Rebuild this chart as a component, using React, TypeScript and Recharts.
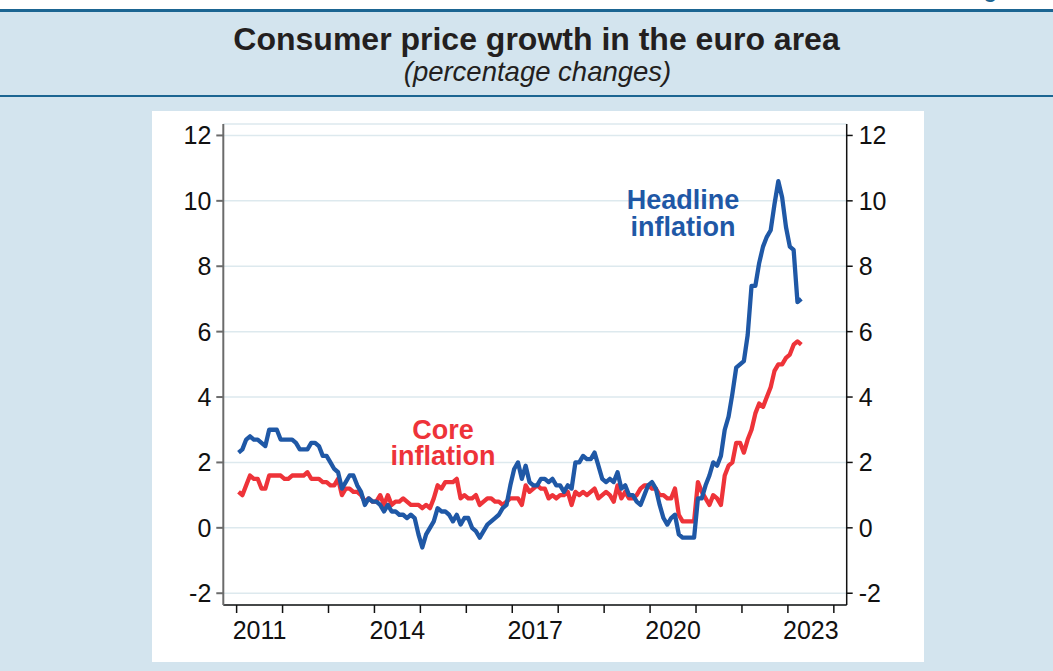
import { CartesianGrid, Line, LineChart, XAxis, YAxis } from 'recharts';

// monthly annual rates, Jan 2011 - Apr 2023
const startYear = 2011;

const headline = [
  2.3, 2.4, 2.7, 2.8, 2.7, 2.7, 2.6, 2.5, 3.0, 3.0, 3.0, 2.7, // 2011
  2.7, 2.7, 2.7, 2.6, 2.4, 2.4, 2.4, 2.6, 2.6, 2.5, 2.2, 2.2, // 2012
  2.0, 1.8, 1.7, 1.2, 1.4, 1.6, 1.6, 1.3, 1.1, 0.7, 0.9, 0.8, // 2013
  0.8, 0.7, 0.5, 0.7, 0.5, 0.5, 0.4, 0.4, 0.3, 0.4, 0.3, -0.2, // 2014
  -0.6, -0.2, 0.0, 0.2, 0.6, 0.5, 0.5, 0.4, 0.2, 0.4, 0.1, 0.3, // 2015
  0.3, 0.0, -0.1, -0.3, -0.1, 0.1, 0.2, 0.3, 0.4, 0.6, 0.7, 1.3, // 2016
  1.8, 2.0, 1.5, 1.9, 1.4, 1.3, 1.3, 1.5, 1.5, 1.4, 1.5, 1.3, // 2017
  1.3, 1.1, 1.3, 1.2, 2.0, 2.0, 2.2, 2.1, 2.1, 2.3, 1.9, 1.5, // 2018
  1.4, 1.5, 1.4, 1.7, 1.2, 1.3, 1.0, 1.0, 0.8, 0.7, 1.0, 1.3, // 2019
  1.4, 1.2, 0.7, 0.3, 0.1, 0.3, 0.4, -0.2, -0.3, -0.3, -0.3, -0.3, // 2020
  0.9, 0.9, 1.3, 1.6, 2.0, 1.9, 2.2, 3.0, 3.4, 4.1, 4.9, 5.0, // 2021
  5.1, 5.9, 7.4, 7.4, 8.1, 8.6, 8.9, 9.1, 9.9, 10.6, 10.1, 9.2, // 2022
  8.6, 8.5, 6.9, 7.0, // 2023
];

const core = [
  1.1, 1.0, 1.3, 1.6, 1.5, 1.5, 1.2, 1.2, 1.6, 1.6, 1.6, 1.6, // 2011
  1.5, 1.5, 1.6, 1.6, 1.6, 1.6, 1.7, 1.5, 1.5, 1.5, 1.4, 1.4, // 2012
  1.3, 1.3, 1.5, 1.0, 1.2, 1.2, 1.1, 1.1, 1.0, 0.8, 0.9, 0.8, // 2013
  0.8, 1.0, 0.7, 1.0, 0.7, 0.8, 0.8, 0.9, 0.8, 0.7, 0.7, 0.7, // 2014
  0.6, 0.7, 0.6, 0.9, 1.3, 1.2, 1.4, 1.4, 1.4, 1.5, 0.9, 1.0, // 2015
  0.9, 0.9, 1.0, 0.7, 0.8, 0.9, 0.9, 0.8, 0.8, 0.7, 0.8, 0.9, // 2016
  0.9, 0.9, 0.7, 1.3, 1.1, 1.2, 1.3, 1.2, 1.2, 0.9, 1.0, 0.9, // 2017
  1.0, 1.0, 1.1, 0.7, 1.1, 1.0, 1.1, 1.0, 1.1, 1.2, 0.9, 1.0, // 2018
  1.1, 1.0, 0.8, 1.3, 0.9, 1.1, 0.9, 0.9, 1.0, 1.2, 1.3, 1.3, // 2019
  1.2, 1.2, 1.0, 1.0, 0.9, 0.9, 1.2, 0.4, 0.2, 0.2, 0.2, 0.2, // 2020
  1.4, 1.1, 0.9, 0.7, 1.0, 0.9, 0.7, 1.6, 1.9, 2.0, 2.6, 2.6, // 2021
  2.3, 2.7, 3.0, 3.5, 3.8, 3.7, 4.0, 4.3, 4.8, 5.0, 5.0, 5.2, // 2022
  5.3, 5.6, 5.7, 5.6, // 2023
];

const yTicks = [-2, 0, 2, 4, 6, 8, 10, 12];
const yearTicks = [2011, 2012, 2013, 2014, 2015, 2016, 2017, 2018, 2019, 2020, 2021, 2022, 2023, 2024];
const labelledYears = [2011, 2014, 2017, 2020, 2023];

const X_MIN = 2010.71;
const X_MAX = 2024.28;
const PLOT_W = 623.4;
const HALF_YEAR_PX = PLOT_W / (X_MAX - X_MIN) / 2;

const BLUE = '#1f58a6';
const RED = '#ee3339';
const BG = '#d3e4ee';
const RULE = '#1b6592';
const FONT = '"Liberation Sans", Arial, sans-serif';

const data = headline.map((h, i) => ({
  t: startYear + i / 12 + 1 / 24,
  headline: h,
  core: core[i],
}));

function YearTick(props: any) {
  const { x, y, payload } = props;
  if (!labelledYears.includes(payload.value)) return null;
  return (
    <text x={x + HALF_YEAR_PX} y={y + 22} textAnchor="middle" fill="#111" fontSize={25} fontFamily={FONT}>
      {payload.value}
    </text>
  );
}

export default function App() {
  return (
    <div style={{ position: 'absolute', left: 0, top: 0, width: 1053, height: 671, background: BG, overflow: 'hidden', fontFamily: FONT }}>
      {/* page header, cut off at the top of the crop */}
      <div style={{ position: 'absolute', left: 0, top: 0, width: 1053, height: 9, background: '#fff', overflow: 'hidden' }}>
        <div style={{ position: 'absolute', right: 6, top: -21, fontSize: 21, fontWeight: 'bold', color: RULE, whiteSpace: 'nowrap' }}>
          Figure 1
        </div>
      </div>
      <div style={{ position: 'absolute', left: 0, top: 9, width: 1053, height: 3, background: RULE }} />
      <div style={{ position: 'absolute', left: 10, top: 23, width: 1053, textAlign: 'center', fontSize: 32, lineHeight: '32px', fontWeight: 'bold', color: '#231f20' }}>
        Consumer price growth in the euro area
      </div>
      <div style={{ position: 'absolute', left: 11, top: 58, width: 1053, textAlign: 'center', fontSize: 27.5, lineHeight: '28px', fontStyle: 'italic', color: '#231f20' }}>
        (percentage changes)
      </div>
      <div style={{ position: 'absolute', left: 0, top: 95, width: 1053, height: 2, background: RULE }} />

      <div style={{ position: 'absolute', left: 152, top: 111, width: 772, height: 551, background: '#fff' }}>
        <LineChart width={772} height={551} data={data} margin={{ top: 13, right: 0, bottom: 0, left: 0 }}>
          <CartesianGrid horizontal vertical={false} stroke="#dde9ee" strokeWidth={1.5} yAxisId="left" />
          <XAxis
            dataKey="t"
            type="number"
            domain={[X_MIN, X_MAX]}
            ticks={yearTicks}
            interval={0}
            allowDataOverflow
            height={57}
            tickSize={8}
            tickMargin={4}
            stroke="#111"
            strokeWidth={1.5}
            tick={<YearTick />}
          />
          <YAxis
            yAxisId="left"
            orientation="left"
            width={71.3}
            domain={[-2.36, 12.35]}
            ticks={yTicks}
            interval={0}
            allowDataOverflow
            tickSize={7}
            tickMargin={5}
            stroke="#6b6b6b"
            strokeWidth={2}
            tick={{ fill: '#111', fontSize: 25, fontFamily: FONT }}
          />
          <YAxis
            yAxisId="right"
            orientation="right"
            width={77.3}
            domain={[-2.36, 12.35]}
            ticks={yTicks}
            interval={0}
            allowDataOverflow
            tickSize={6}
            tickMargin={6}
            stroke="#111"
            strokeWidth={1.5}
            tick={{ fill: '#111', fontSize: 25, fontFamily: FONT }}
          />
          <Line yAxisId="left" dataKey="core" stroke={RED} strokeWidth={4.3} dot={false} strokeLinejoin="round" isAnimationActive={false} />
          <Line yAxisId="left" dataKey="headline" stroke={BLUE} strokeWidth={4.3} dot={false} strokeLinejoin="round" isAnimationActive={false} />
        </LineChart>
      </div>

      <div style={{ position: 'absolute', left: 583, top: 187, width: 200, textAlign: 'center', fontSize: 27, lineHeight: '27px', fontWeight: 'bold', color: BLUE }}>
        Headline
        <br />
        inflation
      </div>
      <div style={{ position: 'absolute', left: 343, top: 417, width: 200, textAlign: 'center', fontSize: 27, lineHeight: '26px', fontWeight: 'bold', color: RED }}>
        Core
        <br />
        inflation
      </div>
    </div>
  );
}
